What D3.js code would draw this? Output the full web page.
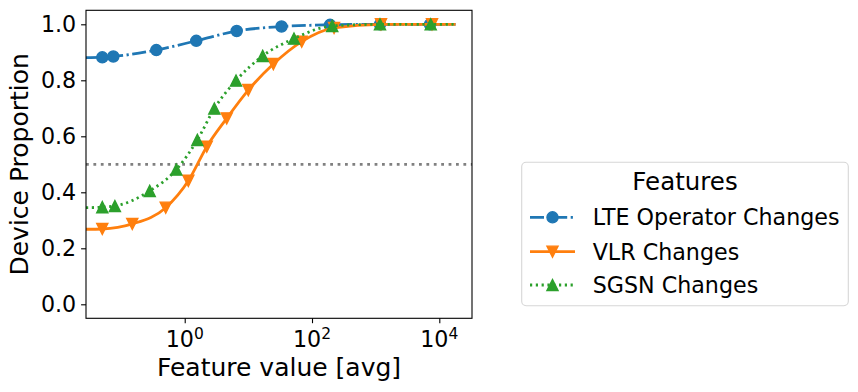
<!DOCTYPE html>
<html>
<head>
<meta charset="utf-8">
<script src="https://cdn.jsdelivr.net/npm/d3@7"></script>
<style>
  body { margin: 0; background: #fff; }
  svg { font-family: "DejaVu Sans", sans-serif; }
</style>
</head>
<body>
<div id="container"></div>
<script>
/* CONSTANTS AND GLOBALS */
const width = 858;
const height = 392;
const margin = { top: 10.3, right: 386, bottom: 73.7, left: 86 };

/* DATA */
const seriesNames = ["LTE Operator Changes", "VLR Changes", "SGSN Changes"];

// marker positions (feature value, device proportion)
const lteX = [0.0507, 0.0755, 0.358, 1.52, 6.56, 33.2, 192, 1170, 7140];
const lteY = [0.882, 0.885, 0.908, 0.941, 0.976, 0.992, 0.998, 1.0, 1.0];

const vlrX = [0.0507, 0.150, 0.503, 1.14, 2.22, 4.57, 9.98, 24.7, 68.9, 222, 1213, 7680];
const vlrY = [0.269, 0.287, 0.345, 0.441, 0.563, 0.664, 0.765, 0.858, 0.938, 0.987, 1.0, 1.0];

const sgsnX = [0.0507, 0.080, 0.282, 0.738, 1.58, 2.92, 6.4, 16.8, 52.1, 208, 1170, 7330];
const sgsnY = [0.347, 0.351, 0.405, 0.481, 0.587, 0.699, 0.799, 0.887, 0.949, 0.994, 1.0, 1.0];

// value of each curve at feature value 0 (clipped to the left edge) and where it ends
const startY = [0.881, 0.268, 0.345];
const endX = 18000;

const xTicks = [1, 100, 10000];
const xTickExp = ["0", "2", "4"];
const yTicks = [0, 0.2, 0.4, 0.6, 0.8, 1.0];
const refLine = 0.5;

const colors = ["#1f77b4", "#ff7f0e", "#2ca02c"];

/* SCALES */
const xScale = d3.scaleLog()
  .domain([0.02812, 32640])
  .range([margin.left, width - margin.right]);

const yScale = d3.scaleLinear()
  .domain([-0.05, 1.05])
  .range([height - margin.bottom, margin.top]);

/* SVG */
const svg = d3.select("#container")
  .append("svg")
  .attr("width", width)
  .attr("height", height);

svg.append("clipPath").attr("id", "plot-clip")
  .append("rect")
  .attr("x", margin.left)
  .attr("y", margin.top)
  .attr("width", width - margin.right - margin.left)
  .attr("height", height - margin.bottom - margin.top);

const plot = svg.append("g").attr("clip-path", "url(#plot-clip)");

// horizontal reference line
plot.append("line")
  .attr("x1", margin.left)
  .attr("x2", width - margin.right)
  .attr("y1", yScale(refLine))
  .attr("y2", yScale(refLine))
  .attr("stroke", "#808080")
  .attr("stroke-width", 2.8)
  .attr("stroke-dasharray", "2.8,4.6");

const series = [
  { name: seriesNames[0], xs: lteX, ys: lteY, y0: startY[0], color: colors[0], dash: "14,3.5,2.2,3.5", marker: "circle" },
  { name: seriesNames[1], xs: vlrX, ys: vlrY, y0: startY[1], color: colors[1], dash: null, marker: "down" },
  { name: seriesNames[2], xs: sgsnX, ys: sgsnY, y0: startY[2], color: colors[2], dash: "2.2,3.6", marker: "up" }
];

const line = d3.line()
  .x(d => xScale(d[0]))
  .y(d => yScale(d[1]))
  .curve(d3.curveMonotoneX);

const markerSize = 11.1;
function markerPath(type, s) {
  const h = s / 2;
  if (type === "down") return `M0,${h}L${-h},${-h}L${h},${-h}Z`;
  if (type === "up") return `M0,${-h}L${-h},${h}L${h},${h}Z`;
  return d3.symbol(d3.symbolCircle, Math.PI * h * h)();
}

series.forEach(s => {
  const pts = [[xScale.domain()[0], s.y0]]
    .concat(s.xs.map((x, i) => [x, s.ys[i]]))
    .concat([[endX, 1.0]]);

  const g = plot.append("g");
  g.append("path")
    .datum(pts)
    .attr("d", line)
    .attr("fill", "none")
    .attr("stroke", s.color)
    .attr("stroke-width", 2.8)
    .attr("stroke-dasharray", s.dash);

  g.selectAll("path.marker")
    .data(s.xs.map((x, i) => [x, s.ys[i]]))
    .join("path")
    .attr("class", "marker")
    .attr("transform", d => `translate(${xScale(d[0])},${yScale(d[1])})`)
    .attr("d", markerPath(s.marker, markerSize))
    .attr("fill", s.color)
    .attr("stroke", s.color)
    .attr("stroke-width", 1.4);
});

/* AXES */
// frame
svg.append("rect")
  .attr("x", margin.left)
  .attr("y", margin.top)
  .attr("width", width - margin.right - margin.left)
  .attr("height", height - margin.bottom - margin.top)
  .attr("fill", "none")
  .attr("stroke", "#000")
  .attr("stroke-width", 1.1);

const xAxisGroup = svg.append("g")
  .attr("transform", `translate(0,${height - margin.bottom})`)
  .call(d3.axisBottom(xScale).tickValues(xTicks).tickSize(4.9).tickPadding(4.9).tickFormat(""));
xAxisGroup.select(".domain").remove();
xAxisGroup.selectAll(".tick line").attr("stroke-width", 1.1);

const xLabels = svg.append("g")
  .selectAll("text")
  .data(xTicks)
  .join("text")
  .attr("x", d => xScale(d))
  .attr("y", 346.7)
  .attr("text-anchor", "middle")
  .attr("font-size", 22.2)
  .attr("fill", "#000");
xLabels.append("tspan").text("10");
xLabels.append("tspan")
  .attr("dy", -7.7)
  .attr("font-size", 15.5)
  .text((d, i) => xTickExp[i]);

const yAxisGroup = svg.append("g")
  .attr("transform", `translate(${margin.left},0)`)
  .call(d3.axisLeft(yScale).tickValues(yTicks).tickSize(4.9).tickPadding(4.9).tickFormat(d3.format(".1f")));
yAxisGroup.select(".domain").remove();
yAxisGroup.selectAll(".tick line").attr("stroke-width", 1.1);
yAxisGroup.selectAll(".tick text")
  .attr("font-size", 22.2)
  .attr("font-family", "DejaVu Sans")
  .attr("fill", "#000");

// axis titles
svg.append("text")
  .attr("x", (margin.left + width - margin.right) / 2)
  .attr("y", 376)
  .attr("text-anchor", "middle")
  .attr("font-size", 25)
  .text("Feature value [avg]");

svg.append("text")
  .attr("transform", `translate(28,${(margin.top + height - margin.bottom) / 2}) rotate(-90)`)
  .attr("text-anchor", "middle")
  .attr("font-size", 25)
  .text("Device Proportion");

/* LEGEND */
const legend = svg.append("g");
legend.append("rect")
  .attr("x", 521.7)
  .attr("y", 162.3)
  .attr("width", 326.6)
  .attr("height", 143.4)
  .attr("rx", 4.4)
  .attr("fill", "#fff")
  .attr("stroke", "#d6d6d6")
  .attr("stroke-width", 1.1);

legend.append("text")
  .attr("x", 685)
  .attr("y", 190)
  .attr("text-anchor", "middle")
  .attr("font-size", 24.5)
  .text("Features");

const rowY = [217.3, 251.7, 285];
const items = legend.selectAll("g.item")
  .data(series)
  .join("g")
  .attr("class", "item")
  .attr("transform", (d, i) => `translate(0,${rowY[i]})`);

items.append("line")
  .attr("x1", 530)
  .attr("x2", 575)
  .attr("stroke", d => d.color)
  .attr("stroke-width", 2.8)
  .attr("stroke-dasharray", d => d.dash);

items.append("path")
  .attr("transform", "translate(552.5,0)")
  .attr("d", d => markerPath(d.marker, markerSize))
  .attr("fill", d => d.color)
  .attr("stroke", d => d.color)
  .attr("stroke-width", 1.4);

items.append("text")
  .attr("x", 592.7)
  .attr("y", 8)
  .attr("font-size", 22.2)
  .text(d => d.name);
</script>
</body>
</html>
